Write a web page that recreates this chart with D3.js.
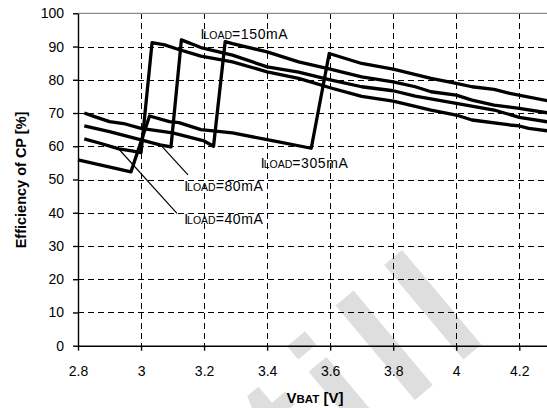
<!DOCTYPE html>
<html>
<head>
<meta charset="utf-8">
<script src="https://cdn.jsdelivr.net/npm/d3@7"></script>
<style>
  body { margin: 0; background: #fff; }
  svg { font-family: "Liberation Sans", Arial, sans-serif; }
  .grid line { stroke: #000; stroke-width: 1; stroke-dasharray: 6,4; shape-rendering: crispEdges; }
  .axis path, .axis line { stroke: #000; stroke-width: 1.4; }
  .axis text { font-size: 14px; fill: #000; }
  .curve { fill: none; stroke: #000; stroke-width: 3.3; stroke-linejoin: round; }
  .leader { stroke: #000; stroke-width: 1.2; }
  .lbl { font-size: 14px; }
  .watermark { font-size: 170px; font-weight: bold; fill: #dedede; letter-spacing: 16px; }
</style>
</head>
<body>
<svg id="chart" width="547" height="408"></svg>
<script>
  // efficiency curves, [VBAT, eff %]
  var load40 = [[2.82, 62.2], [2.87, 60.9], [2.93, 59.2], [2.97, 58.6], [3.0, 58.1],
    [3.035, 91.2], [3.075, 90.5], [3.117, 89.2], [3.19, 87.1], [3.29, 85.4], [3.4, 82.4],
    [3.5, 80.4], [3.6, 77.6], [3.7, 75.0], [3.8, 73.6], [3.92, 70.9], [4.0, 69.4],
    [4.05, 67.9], [4.17, 66.4], [4.2, 66.1], [4.23, 65.4], [4.3, 64.5]];
  var load80 = [[2.82, 66.1], [2.9, 64.4], [3.0, 61.9], [3.06, 60.4], [3.095, 59.8],
    [3.128, 92.0], [3.19, 89.7], [3.29, 87.4], [3.4, 83.9], [3.5, 82.3], [3.6, 80.0],
    [3.7, 77.9], [3.8, 76.7], [3.87, 75.1], [4.0, 72.9], [4.12, 70.9], [4.2, 68.7], [4.3, 67.2]];
  var load150 = [[2.82, 70.0], [2.85, 69.0], [2.9, 67.4], [2.95, 66.7], [3.0, 65.4],
    [3.05, 64.7], [3.1, 64.0], [3.2, 61.6], [3.23, 60.0], [3.267, 91.5], [3.29, 90.9],
    [3.4, 88.4], [3.5, 85.4], [3.6, 83.2], [3.7, 80.9], [3.8, 79.4], [3.87, 77.9],
    [3.92, 76.4], [4.0, 75.4], [4.05, 73.9], [4.12, 72.4], [4.2, 71.4], [4.3, 69.9]];
  var load305 = [[2.8, 55.9], [2.968, 52.3], [3.027, 69.1], [3.09, 67.4], [3.12, 67.1],
    [3.19, 65.0], [3.29, 64.0], [3.4, 62.0], [3.54, 59.4], [3.597, 87.9], [3.7, 84.9],
    [3.8, 83.2], [3.92, 80.4], [4.0, 78.9], [4.05, 77.9], [4.12, 77.1], [4.17, 75.9], [4.3, 73.5]];

  var xTicks = [2.8, 3.0, 3.2, 3.4, 3.6, 3.8, 4.0, 4.2];
  var xTickLabels = ['2.8', '3', '3.2', '3.4', '3.6', '3.8', '4', '4.2'];
  var yTicks = [0, 10, 20, 30, 40, 50, 60, 70, 80, 90, 100];

  // label text + where it sits [VBAT, eff] and optional leader [from, to]
  var labelNames = ['=150mA', '=305mA', '=80mA', '=40mA'];
  var labelPos = [[3.189, 92.3], [3.38, 53.4], [3.137, 46.6], [3.137, 36.6]];
  var leaderFrom = [null, null, [3.059, 60.7], [2.93, 59.1]];
  var leaderTo = [null, null, [3.149, 51.4], [3.114, 39.8]];

  var svg = d3.select('#chart');

  var x = d3.scaleLinear().domain([2.8, 4.3]).range([78, 550.8]);
  var y = d3.scaleLinear().domain([0, 100]).range([345.7, 13.3]);

  // watermark sits under everything
  svg.append('text')
    .attr('class', 'watermark')
    .attr('transform', 'translate(217,566) rotate(-40)')
    .text('still');

  var grid = svg.append('g').attr('class', 'grid');
  grid.selectAll('line.h')
    .data(yTicks.filter(function (d) { return d > 0 && d < 100; }))
    .enter().append('line')
    .attr('x1', x(2.8)).attr('x2', x(4.3))
    .attr('y1', function (d) { return Math.round(y(d)) + 0.5; })
    .attr('y2', function (d) { return Math.round(y(d)) + 0.5; });
  grid.selectAll('line.v')
    .data(xTicks.slice(1))
    .enter().append('line')
    .attr('y1', y(100)).attr('y2', y(0))
    .attr('x1', function (d) { return Math.round(x(d)) + 0.5; })
    .attr('x2', function (d) { return Math.round(x(d)) + 0.5; });

  // top border of plot area
  svg.append('line')
    .attr('x1', x(2.8)).attr('x2', x(4.3))
    .attr('y1', y(100)).attr('y2', y(100))
    .attr('stroke', '#8c8c8c').attr('stroke-width', 1.2);

  var xAxis = svg.append('g')
    .attr('class', 'axis')
    .attr('transform', 'translate(0,' + y(0) + ')')
    .call(d3.axisBottom(x).tickValues(xTicks).tickSize(5).tickSizeOuter(0)
      .tickFormat(function (d, i) { return xTickLabels[i]; }));
  xAxis.selectAll('text').attr('y', 20);

  var yAxis = svg.append('g')
    .attr('class', 'axis')
    .attr('transform', 'translate(' + x(2.8) + ',0)')
    .call(d3.axisLeft(y).tickValues(yTicks).tickSize(5).tickSizeOuter(0));
  yAxis.selectAll('text').attr('x', -14);

  var line = d3.line()
    .x(function (d) { return x(d[0]); })
    .y(function (d) { return y(d[1]); });

  svg.selectAll('path.curve')
    .data([load305, load150, load80, load40])
    .enter().append('path')
    .attr('class', 'curve')
    .attr('d', line);

  // leader lines
  leaderFrom.forEach(function (p, i) {
    if (!p) return;
    svg.append('line').attr('class', 'leader')
      .attr('x1', x(p[0])).attr('y1', y(p[1]))
      .attr('x2', x(leaderTo[i][0])).attr('y2', y(leaderTo[i][1]));
  });

  // I_LOAD labels
  labelNames.forEach(function (name, i) {
    var t = svg.append('text').attr('class', 'lbl')
      .attr('x', x(labelPos[i][0])).attr('y', y(labelPos[i][1]));
    t.append('tspan').text('I');
    t.append('tspan').attr('font-size', '10.5px').attr('dx', -1).text('LOAD');
    t.append('tspan').attr('letter-spacing', '0.6px').text(name);
  });

  // axis titles
  svg.append('text')
    .attr('transform', 'translate(26,180) rotate(-90)')
    .attr('text-anchor', 'middle')
    .attr('font-weight', 'bold')
    .attr('font-size', '14.5px')
    .text('Efficiency of CP [%]');

  var xt = svg.append('text')
    .attr('x', 315).attr('y', 403)
    .attr('text-anchor', 'middle')
    .attr('font-weight', 'bold')
    .attr('font-size', '15px');
  xt.append('tspan').text('V');
  xt.append('tspan').attr('font-size', '11.5px').text('BAT');
  xt.append('tspan').text(' [V]');
</script>
</body>
</html>
